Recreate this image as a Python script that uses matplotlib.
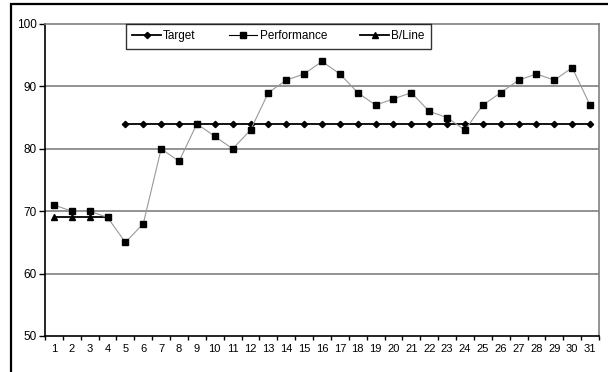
import numpy as np
import matplotlib.pyplot as plt
from matplotlib.patches import Rectangle

plt.rcParams['font.family'] = ['Liberation Sans', 'DejaVu Sans']

days = list(range(1, 32))
target = [np.nan] * 4 + [84] * 27
performance = [71, 70, 70, 69, 65, 68, 80, 78, 84, 82, 80, 83, 89, 91, 92, 94,
               92, 89, 87, 88, 89, 86, 85, 83, 87, 89, 91, 92, 91, 93, 87]
baseline = [69, 69, 69, 69] + [np.nan] * 27

fig = plt.figure(figsize=(6.08, 3.72), dpi=100)
ax = fig.add_axes([45 / 608, 36 / 372, 554 / 608, 312 / 372])

# outer chart border
fig.patches.append(Rectangle((11 / 608, -0.1), 1.2, (372 - 4) / 372 + 0.1,
                             transform=fig.transFigure, fill=False,
                             edgecolor='black', linewidth=1.6))

for y in [60, 70, 80, 90]:
    ax.axhline(y, color='#808080', linewidth=1.2, zorder=1)

ax.plot(days, target, color='black', linewidth=1.3, marker='D', markersize=3.2,
        label='Target', zorder=3)
ax.plot(days, performance, color='#999999', linewidth=0.8, marker='s',
        markersize=5, markerfacecolor='black', markeredgecolor='black',
        label='Performance', zorder=4)
ax.plot(days, baseline, color='black', linewidth=1.3, marker='^', markersize=5,
        label='B/Line', zorder=3)

ax.set_xlim(0.5, 31.5)
ax.set_ylim(50, 100)
ax.set_yticks([50, 60, 70, 80, 90, 100])
ax.set_xticks(days)
ax.set_xticks(np.arange(0.5, 32, 1), minor=True)
ax.tick_params(axis='x', which='major', length=0, labelsize=8, pad=6)
ax.tick_params(axis='x', which='minor', length=3, width=1, direction='out')
ax.tick_params(axis='y', labelsize=8.5, length=4, width=1, pad=2)

for side in ['top', 'right']:
    ax.spines[side].set_color('#808080')
    ax.spines[side].set_linewidth(1.2)
for side in ['left', 'bottom']:
    ax.spines[side].set_color('black')
    ax.spines[side].set_linewidth(1.2)

leg = ax.legend(loc='upper left', bbox_to_anchor=(81 / 554, 1.0, 305 / 554, 0),
                ncol=3, mode='expand', frameon=True, fancybox=False,
                fontsize=8.5, handlelength=2.4, handletextpad=0.2,
                borderpad=0.55, columnspacing=1.0, borderaxespad=0)
leg.get_frame().set_edgecolor('black')
leg.get_frame().set_linewidth(1.0)
for h in leg.legend_handles:
    h.set_color('black')
    h.set_markerfacecolor('black')

fig.savefig('out.png', dpi=100)
